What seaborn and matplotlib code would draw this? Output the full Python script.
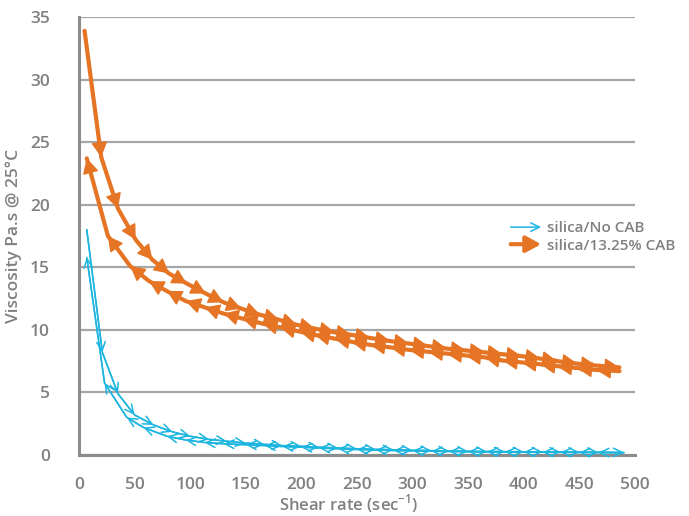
import matplotlib
matplotlib.use("Agg")
import matplotlib.pyplot as plt
import seaborn as sns
import pandas as pd
from matplotlib.patches import FancyArrowPatch
from matplotlib.legend_handler import HandlerBase

# ---- data ----
cab_up_x = [5, 20, 35, 51, 66, 81, 97, 114, 130, 146, 163, 180, 196, 212, 230,
            245, 262, 280, 297, 314, 331, 348, 365, 381, 398, 415, 430, 448, 465, 486]
cab_up_y = [33.9, 23.8, 19.7, 17.2, 15.6, 14.5, 13.7, 12.9, 12.2, 11.7, 11.2, 10.8, 10.4, 10.1, 9.8,
            9.6, 9.35, 9.1, 8.9, 8.7, 8.5, 8.35, 8.2, 8.05, 7.9, 7.7, 7.5, 7.3, 7.15, 7.0]
cab_down_x = [486, 465, 448, 430, 415, 398, 381, 365, 348, 331, 314, 297, 280, 262, 245,
              230, 212, 199, 181, 165, 147, 130, 113, 96, 79, 63, 46, 26, 7]
cab_down_y = [6.7, 6.8, 6.95, 7.1, 7.25, 7.4, 7.55, 7.8, 7.95, 8.1, 8.25, 8.4, 8.6, 8.8, 9.05,
              9.3, 9.6, 9.85, 10.2, 10.5, 10.9, 11.3, 11.8, 12.3, 13.1, 13.9, 15.1, 17.5, 23.7]

nocab_up_x = [7, 21, 35, 50, 67, 84, 100, 117, 133, 150, 167, 183, 200, 216, 233,
              250, 267, 283, 300, 317, 333, 350, 367, 383, 400, 417, 433, 450, 467, 490]
nocab_up_y = [18.0, 8.2, 4.9, 3.2, 2.4, 1.85, 1.5, 1.25, 1.1, 0.95, 0.85, 0.75, 0.7, 0.62, 0.56,
              0.5, 0.45, 0.42, 0.38, 0.35, 0.32, 0.3, 0.28, 0.27, 0.26, 0.25, 0.24, 0.23, 0.22, 0.2]
nocab_down_x = [490, 467, 450, 433, 417, 400, 383, 367, 350, 333, 317, 300, 283, 267, 250,
                233, 216, 200, 183, 167, 150, 130, 113, 96, 79, 58, 43, 23, 7]
nocab_down_y = [0.18, 0.19, 0.2, 0.21, 0.22, 0.23, 0.24, 0.25, 0.26, 0.28, 0.3, 0.33, 0.36, 0.4, 0.44,
                0.5, 0.56, 0.62, 0.68, 0.75, 0.82, 0.9, 1.0, 1.2, 1.5, 2.2, 3.0, 5.75, 15.8]

series_names = ["silica/No CAB", "silica/13.25% CAB"]
x_ticks = [0, 50, 100, 150, 200, 250, 300, 350, 400, 450, 500]
y_ticks = [0, 5, 10, 15, 20, 25, 30, 35]

BLUE = "#1cb5e0"
ORANGE = "#e57424"
GRAY = "#808080"

sns.set_style("white")
plt.rcParams["font.family"] = ["Open Sans", "DejaVu Sans"]

fig = plt.figure(figsize=(6.89, 5.16), dpi=100)
ax = fig.add_axes([79 / 689, 1 - 455 / 516, (635 - 79) / 689, (455 - 17) / 516])

def make_df(xs, ys):
    return pd.DataFrame({"x": xs, "y": ys})

BLUE_STYLE = "->,head_length=0.45,head_width=0.22"
ORANGE_STYLE = "-|>,head_length=0.5,head_width=0.27"

curves = [
    (nocab_up_x, nocab_up_y, BLUE, 1.1, BLUE_STYLE, 14),
    (nocab_down_x, nocab_down_y, BLUE, 1.1, BLUE_STYLE, 14),
    (cab_up_x, cab_up_y, ORANGE, 3.0, ORANGE_STYLE, 18),
    (cab_down_x, cab_down_y, ORANGE, 3.0, ORANGE_STYLE, 18),
]

for xs, ys, col, lw, style, ms in curves:
    df = make_df(xs, ys)
    sns.lineplot(data=df, x="x", y="y", sort=False, estimator=None, color=col,
                 linewidth=lw, ax=ax, zorder=3)
    for i in range(1, len(xs)):
        ax.annotate("", xy=(xs[i], ys[i]), xytext=(xs[i - 1], ys[i - 1]),
                    arrowprops=dict(arrowstyle=style, color=col, lw=min(lw, 1.2),
                                    shrinkA=0, shrinkB=0, mutation_scale=ms),
                    zorder=4)

ax.set_xlim(0, 500)
ax.set_ylim(0, 35)
ax.set_xticks(x_ticks)
ax.set_yticks(y_ticks)
ax.yaxis.grid(True, color="#a6a6a6", linewidth=1.6)
ax.xaxis.grid(False)
ax.set_axisbelow(True)
for s in ["top", "right"]:
    ax.spines[s].set_visible(False)
for s in ["left", "bottom"]:
    ax.spines[s].set_color("#8c8c8c")
    ax.spines[s].set_linewidth(2.2)
ax.tick_params(axis="both", length=0, labelsize=12.5, labelcolor=GRAY)
ax.tick_params(axis="y", pad=21)
ax.tick_params(axis="x", pad=16)
for lab in ax.get_xticklabels() + ax.get_yticklabels():
    lab.set_fontweight("semibold")

ax.set_xlabel("Shear rate (sec$^{\\mathregular{-1}}$)", fontsize=12, color=GRAY,
              fontweight="semibold")
ax.xaxis.set_label_coords(0.485, -0.085)
ax.set_ylabel("Viscosity Pa.s @ 25°C", fontsize=12.5, color=GRAY,
              fontweight="semibold")
ax.yaxis.set_label_coords(-0.102, 0.50)


class ArrowHandler(HandlerBase):
    def create_artists(self, legend, orig_handle, xdescent, ydescent, width, height,
                       fontsize, trans):
        col, lw, style, ms = orig_handle
        y = height / 2 - ydescent
        p = FancyArrowPatch((-xdescent, y), (width - xdescent, y), arrowstyle=style,
                            color=col, lw=lw, mutation_scale=ms, shrinkA=0, shrinkB=0,
                            transform=trans)
        return [p]


class H:
    def __init__(self, *a):
        self.a = a

    def __iter__(self):
        return iter(self.a)


handles = [H(BLUE, 1.1, BLUE_STYLE, 14),
           H(ORANGE, 3.0, ORANGE_STYLE, 18)]
leg = fig.legend(handles, series_names, handler_map={H: ArrowHandler()},
                 loc="center left", bbox_to_anchor=(503 / 689, 1 - 237 / 516),
                 frameon=False, fontsize=11, handlelength=2.0, handletextpad=0.35,
                 labelspacing=0.2, borderpad=0)
for t in leg.get_texts():
    t.set_color(GRAY)
    t.set_fontweight("semibold")

fig.savefig("out.png", dpi=100)
